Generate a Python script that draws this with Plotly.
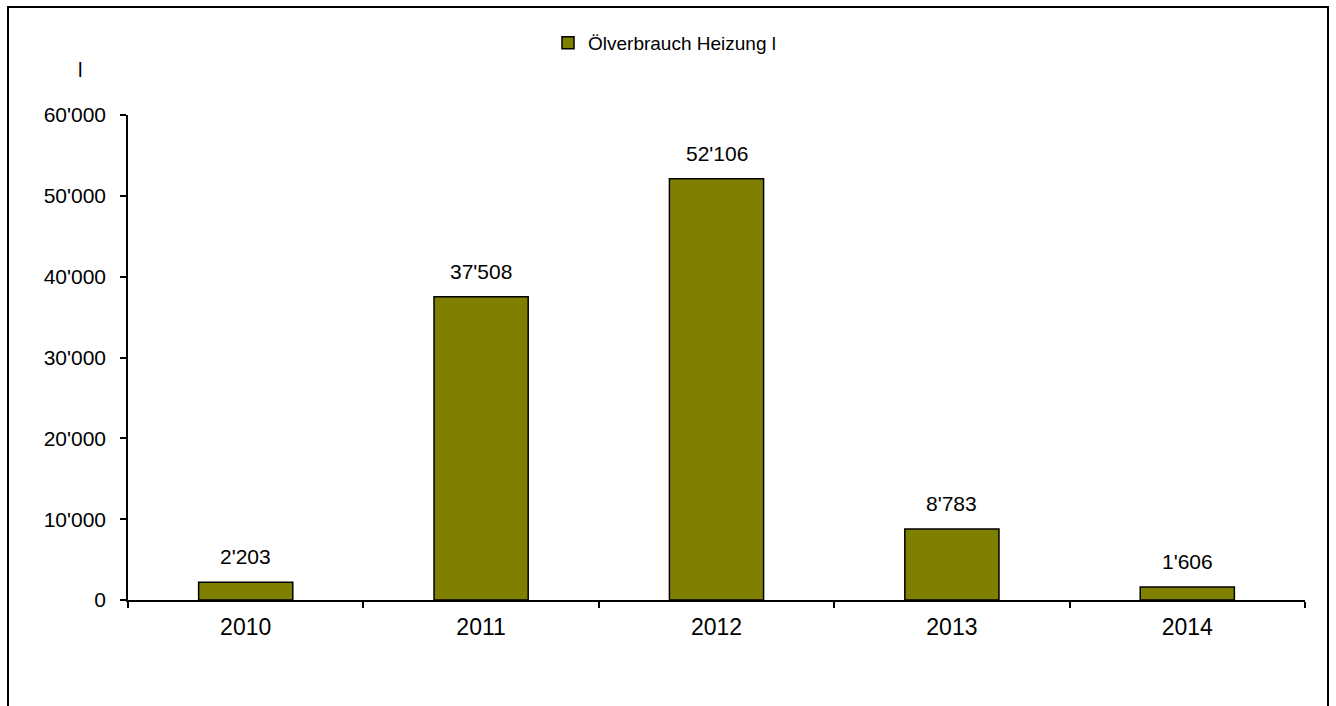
import plotly.graph_objects as go

# Annual heating-oil consumption in litres
years = ["2010", "2011", "2012", "2013", "2014"]
oil_litres = [2203, 37508, 52106, 8783, 1606]
series_name = "Ölverbrauch Heizung l"
unit_label = "l"
y_ticks = [0, 10000, 20000, 30000, 40000, 50000, 60000]

FONT = "Liberation Sans, Arial, sans-serif"
W, H = 1336, 706
L, R, T, B = 128, 31, 115, 106
plot_w = W - L - R
plot_h = H - T - B


def px_to_paper_x(px):
    return (px - L) / plot_w


def px_to_paper_y(py):
    return (H - B - py) / plot_h


def fmt(v):
    return f"{v:,}".replace(",", "'")


fig = go.Figure()
fig.add_trace(go.Bar(
    x=years,
    y=oil_litres,
    name=series_name,
    width=0.4,
    marker=dict(color="#808000", line=dict(color="#000000", width=1.5)),
    showlegend=True,
))

# value labels above each bar (positioned by category index)
for i, v in enumerate(oil_litres):
    fig.add_annotation(
        x=i, y=v, text=fmt(v), showarrow=False,
        yanchor="bottom", yshift=12,
        font=dict(family=FONT, size=21, color="#000000"),
    )

# unit label above the value axis
fig.add_annotation(
    xref="paper", yref="paper",
    x=px_to_paper_x(80), y=px_to_paper_y(70),
    text=unit_label, showarrow=False,
    xanchor="center", yanchor="middle",
    font=dict(family=FONT, size=20, color="#000000"),
)

# outer chart frame
fig.add_shape(
    type="rect", xref="paper", yref="paper",
    x0=px_to_paper_x(8), x1=px_to_paper_x(1328),
    y0=px_to_paper_y(716), y1=px_to_paper_y(7),
    line=dict(color="#000000", width=2), fillcolor="rgba(0,0,0,0)",
    layer="below",
)

fig.update_layout(
    width=W, height=H,
    margin=dict(l=L, r=R, t=T, b=B, pad=0),
    paper_bgcolor="#ffffff",
    plot_bgcolor="#ffffff",
    separators=".'",
    font=dict(family=FONT, size=20, color="#000000"),
    showlegend=True,
    legend=dict(
        orientation="h",
        x=px_to_paper_x(548), y=px_to_paper_y(24),
        xanchor="left", yanchor="top",
        font=dict(family=FONT, size=19, color="#000000"),
        bgcolor="rgba(0,0,0,0)",
    ),
    xaxis=dict(
        type="category",
        range=[-0.5, len(years) - 0.5],
        tickson="boundaries",
        ticks="outside", ticklen=6, tickwidth=1.5, tickcolor="#000000",
        showline=True, linecolor="#000000", linewidth=1.5,
        showgrid=False, zeroline=False,
        tickangle=0,
        tickfont=dict(family=FONT, size=23, color="#000000"),
        ticklabelstandoff=6,
    ),
    yaxis=dict(
        range=[0, 60000],
        tickvals=y_ticks,
        tickformat=",d",
        ticks="outside", ticklen=6, tickwidth=1.5, tickcolor="#000000",
        showline=True, linecolor="#000000", linewidth=1.5,
        showgrid=False, zeroline=False,
        tickfont=dict(family=FONT, size=21, color="#000000"),
        ticklabelstandoff=10,
    ),
)

fig.write_html("out.html")
